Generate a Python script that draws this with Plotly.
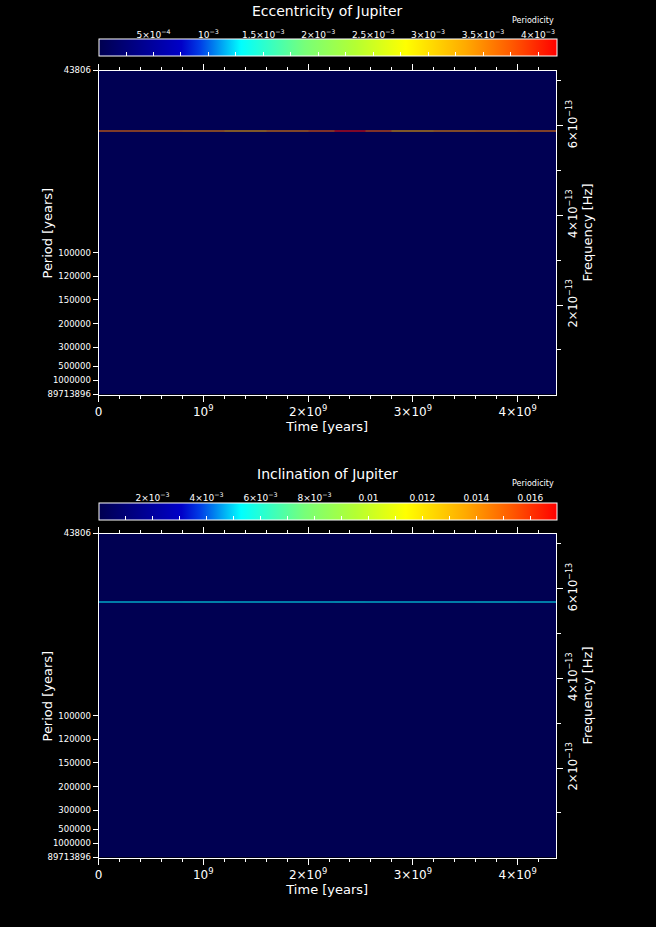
import plotly.graph_objects as go

# ---------------- data ----------------
YEAR_S = 3.15576e7  # seconds per year

time_edges = [0, 4.0e8, 8.0e8, 1.2e9, 1.6e9, 2.0e9, 2.25e9, 2.55e9, 2.8e9,
              3.2e9, 3.6e9, 4.0e9, 4.366e9]

period_ticks = [43806, 100000, 120000, 150000, 200000, 300000, 500000,
                1000000, 89713896]
period_labels = ["43806", "100000", "120000", "150000", "200000", "300000",
                 "500000", "1000000", "89713896"]

freq_ticks = [2e-13, 4e-13, 6e-13]
freq_labels = ["2×10<sup>−13</sup>", "4×10<sup>−13</sup>", "6×10<sup>−13</sup>"]

time_ticks = [0, 1e9, 2e9, 3e9, 4e9]
time_labels = ["0", "10<sup>9</sup>", "2×10<sup>9</sup>", "3×10<sup>9</sup>",
               "4×10<sup>9</sup>"]

# eccentricity spectrogram: dominant line frequency and its power along time
ecc_line_freq = 5.875e-13
ecc_line_width = 2.4e-15
ecc_line_power = [3.6e-3, 3.55e-3, 3.5e-3, 3.3e-3, 3.5e-3, 3.7e-3, 4.1e-3,
                  3.7e-3, 3.3e-3, 3.45e-3, 3.5e-3, 3.55e-3]
ecc_background = 2e-5
ecc_cmax = 4.164e-3
ecc_cb_ticks = [2.5e-4, 5e-4, 7.5e-4, 1e-3, 1.25e-3, 1.5e-3, 1.75e-3, 2e-3,
                2.25e-3, 2.5e-3, 2.75e-3, 3e-3, 3.25e-3, 3.5e-3, 3.75e-3, 4e-3]
ecc_cb_label_vals = [5e-4, 1e-3, 1.5e-3, 2e-3, 2.5e-3, 3e-3, 3.5e-3, 4e-3]
ecc_cb_labels = ["5×10<sup>−4</sup>", "10<sup>−3</sup>", "1.5×10<sup>−3</sup>",
                 "2×10<sup>−3</sup>", "2.5×10<sup>−3</sup>", "3×10<sup>−3</sup>",
                 "3.5×10<sup>−3</sup>", "4×10<sup>−3</sup>"]

# inclination spectrogram
inc_line_freq = 5.71e-13
inc_line_width = 2.4e-15
inc_line_power = [5.2e-3, 5.2e-3, 5.25e-3, 5.2e-3, 5.2e-3, 5.2e-3, 5.25e-3,
                  5.2e-3, 5.2e-3, 5.2e-3, 5.25e-3, 5.2e-3]
inc_background = 5e-5
inc_cmax = 0.01695
inc_cb_ticks = [1e-3, 2e-3, 3e-3, 4e-3, 5e-3, 6e-3, 7e-3, 8e-3, 9e-3, 0.01,
                0.011, 0.012, 0.013, 0.014, 0.015, 0.016]
inc_cb_label_vals = [2e-3, 4e-3, 6e-3, 8e-3, 0.01, 0.012, 0.014, 0.016]
inc_cb_labels = ["2×10<sup>−3</sup>", "4×10<sup>−3</sup>", "6×10<sup>−3</sup>",
                 "8×10<sup>−3</sup>", "0.01", "0.012", "0.014", "0.016"]

colorscale = [
    [0.0, "rgb(0,0,80)"], [0.18, "rgb(0,0,200)"], [0.22, "rgb(0,60,230)"],
    [0.31, "rgb(0,255,255)"], [0.45, "rgb(120,255,120)"],
    [0.56, "rgb(180,255,50)"], [0.67, "rgb(255,255,0)"],
    [0.80, "rgb(255,170,0)"], [0.90, "rgb(255,90,0)"], [1.0, "rgb(255,0,0)"],
]

# ---------------- derived ----------------
f_top = 1.0 / (period_ticks[0] * YEAR_S)
f_bot = 1.0 / (period_ticks[-1] * YEAR_S)
period_tick_freqs = [1.0 / (p * YEAR_S) for p in period_ticks]


def spectro(line_f, line_w, power, bg):
    y_edges = [f_bot, line_f - line_w / 2, line_f + line_w / 2, f_top]
    z = [[bg] * len(power), list(power), [bg] * len(power)]
    return y_edges, z


W, H = 656, 927
FONT = "DejaVu Sans"
white = "white"

fig = go.Figure()

panels = [
    dict(title="Eccentricity of Jupiter",
         data=spectro(ecc_line_freq, ecc_line_width, ecc_line_power, ecc_background),
         cax="coloraxis", cmax=ecc_cmax, cbt=ecc_cb_ticks,
         cblv=ecc_cb_label_vals, cbl=ecc_cb_labels,
         top=70.5, bottom=394.5, cb_top=39.5, cb_bot=56.5, title_y=11, per_y=20),
    dict(title="Inclination of Jupiter",
         data=spectro(inc_line_freq, inc_line_width, inc_line_power, inc_background),
         cax="coloraxis2", cmax=inc_cmax, cbt=inc_cb_ticks,
         cblv=inc_cb_label_vals, cbl=inc_cb_labels,
         top=533.5, bottom=857.5, cb_top=502.5, cb_bot=519.5, title_y=474, per_y=483),
]

x0, x1 = 98.5, 556.0
annotations = []
layout = {}
for i, p in enumerate(panels):
    xa = "x" if i == 0 else "x2"
    ya_l = "y" if i == 0 else "y3"
    ya_r = "y2" if i == 0 else "y4"
    xcb = "x3" if i == 0 else "x4"
    xkey = "xaxis" if i == 0 else "xaxis2"
    ylkey = "yaxis" if i == 0 else "yaxis3"
    yrkey = "yaxis2" if i == 0 else "yaxis4"
    cbkey = "xaxis3" if i == 0 else "xaxis4"
    y_edges, z = p["data"]
    fig.add_trace(go.Heatmap(x=time_edges, y=y_edges, z=z, coloraxis=p["cax"],
                             xaxis=xa, yaxis=ya_l, zsmooth=False,
                             hoverinfo="skip"))
    # empty traces so the frequency axis and colour-bar label axis get drawn
    fig.add_trace(go.Scatter(x=[None], y=[None], xaxis=xa, yaxis=ya_r,
                             mode="markers", hoverinfo="skip"))
    fig.add_trace(go.Scatter(x=[None], y=[None], xaxis=xcb, yaxis=ya_l,
                             mode="markers", hoverinfo="skip"))
    dom = [1 - p["bottom"] / H, 1 - p["top"] / H]
    layout[xkey] = dict(
        domain=[x0 / W, x1 / W], anchor=ya_l, range=[0, time_edges[-1]],
        tickmode="array", tickvals=time_ticks, ticktext=time_labels,
        ticks="outside", ticklen=6, tickcolor=white, tickwidth=1,
        showline=True, linecolor=white, linewidth=1, mirror="ticks",
        showgrid=False, zeroline=False,
        tickfont=dict(family=FONT, size=12, color=white),
        minor=dict(tickmode="linear", tick0=0, dtick=2e8, ticks="outside",
                   ticklen=3, tickcolor=white, showgrid=False),
        title=dict(text="Time [years]", font=dict(family=FONT, size=13, color=white), standoff=3),
    )
    layout[ylkey] = dict(
        domain=dom, anchor=xa, range=[f_bot, f_top],
        tickmode="array", tickvals=period_tick_freqs, ticktext=period_labels,
        ticks="outside", ticklen=5, tickcolor=white,
        showline=True, linecolor=white, linewidth=1,
        showgrid=False, zeroline=False,
        tickfont=dict(family=FONT, size=8.5, color=white),
    )
    layout[yrkey] = dict(
        overlaying=ya_l, side="right", anchor=xa, range=[f_bot, f_top],
        tickmode="array", tickvals=freq_ticks, ticktext=freq_labels,
        tickangle=-90, ticks="outside", ticklen=6, tickcolor=white,
        showline=True, linecolor=white, linewidth=1,
        showgrid=False, zeroline=False,
        tickfont=dict(family=FONT, size=11.5, color=white),
        minor=dict(tickmode="linear", tick0=0, dtick=1e-13, ticks="outside",
                   ticklen=4, tickcolor=white, showgrid=False),
        title=dict(text="Frequency [Hz]", font=dict(family=FONT, size=13, color=white), standoff=4),
    )
    layout[cbkey] = dict(
        overlaying=xa, anchor="free", position=1 - p["cb_top"] / H, side="top",
        range=[0, p["cmax"]], tickmode="array", tickvals=p["cblv"],
        ticktext=p["cbl"], ticks="", showline=False, showgrid=False,
        zeroline=False, tickfont=dict(family=FONT, size=9, color=white),
    )
    layout[p["cax"]] = dict(
        cmin=0, cmax=p["cmax"], colorscale=colorscale,
        colorbar=dict(
            orientation="h", xanchor="left", x=x0 / W, lenmode="pixels",
            len=x1 - x0, thickness=p["cb_bot"] - p["cb_top"],
            thicknessmode="pixels", yanchor="top", y=1 - p["cb_top"] / H,
            xpad=0, ypad=0, outlinecolor=white, outlinewidth=1,
            tickmode="array", tickvals=p["cbt"], showticklabels=False,
            ticks="inside", ticklen=4, tickcolor=white,
        ),
    )
    annotations.append(dict(text=p["title"], x=(x0 + x1) / 2 / W, y=1 - p["title_y"] / H,
                            xref="paper", yref="paper", showarrow=False,
                            xanchor="center", yanchor="middle",
                            font=dict(family=FONT, size=14, color=white)))
    annotations.append(dict(text="Periodicity", x=x1 / W, y=1 - p["per_y"] / H,
                            xref="paper", yref="paper", showarrow=False,
                            xanchor="right", yanchor="middle",
                            font=dict(family=FONT, size=8, color=white)))
    annotations.append(dict(text="Period [years]", x=47 / W,
                            y=1 - (p["top"] + p["bottom"]) / 2 / H,
                            xref="paper", yref="paper", showarrow=False,
                            textangle=-90, xanchor="center", yanchor="middle",
                            font=dict(family=FONT, size=13, color=white)))

fig.update_layout(
    width=W, height=H, margin=dict(l=0, r=0, t=0, b=0, pad=0, autoexpand=False),
    paper_bgcolor="black", plot_bgcolor="black",
    showlegend=False, annotations=annotations, **layout,
)

fig.write_html("out.html", config={"displayModeBar": False},
               post_script="document.body.style.margin='0px';")
